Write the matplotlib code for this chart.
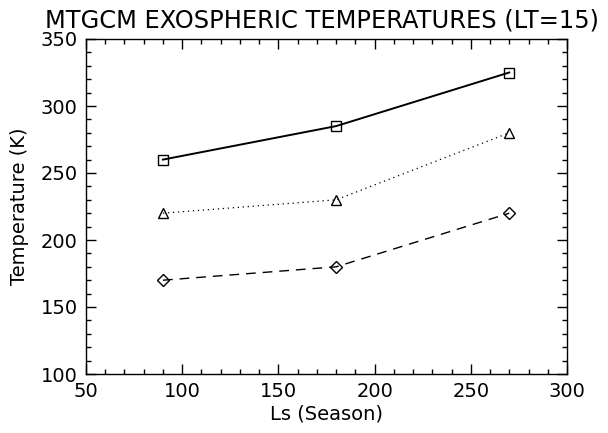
import matplotlib
matplotlib.use("Agg")
import matplotlib.pyplot as plt
from matplotlib.ticker import MultipleLocator

ls = [90, 180, 270]
temp_square = [260, 285, 325]
temp_triangle = [220, 230, 280]
temp_diamond = [170, 180, 220]

title = "MTGCM EXOSPHERIC TEMPERATURES (LT=15)"
xlabel = "Ls (Season)"
ylabel = "Temperature (K)"

plt.rcParams['font.family'] = ['DejaVu Sans']
fig = plt.figure(figsize=(6.08, 4.33), dpi=100)
ax = fig.add_axes([86/608, 1-374/433, (567-86)/608, (374-39)/433])

ax.plot(ls, temp_square, '-', color='black', lw=1.4, marker='s', ms=7,
        mfc='none', mec='black', mew=1.0)
ax.plot(ls, temp_triangle, linestyle=(0, (1, 3)), color='black', lw=0.9, marker='^', ms=7,
        mfc='none', mec='black', mew=1.0)
ax.plot(ls, temp_diamond, linestyle=(0, (7, 5)), color='black', lw=1.0, marker='D', ms=6,
        mfc='none', mec='black', mew=1.0)

ax.set_xlim(50, 300)
ax.set_ylim(100, 350)
ax.xaxis.set_major_locator(MultipleLocator(50))
ax.xaxis.set_minor_locator(MultipleLocator(10))
ax.yaxis.set_major_locator(MultipleLocator(50))
ax.yaxis.set_minor_locator(MultipleLocator(10))
ax.tick_params(which='both', direction='in', top=True, right=True, color='black')
ax.tick_params(which='major', length=7, width=1.0, labelsize=14, pad=6)
ax.tick_params(which='minor', length=3.5, width=1.0)
for s in ax.spines.values():
    s.set_linewidth(1.0)

ax.set_xlabel(xlabel, fontsize=14, labelpad=2)
ax.set_ylabel(ylabel, fontsize=14, labelpad=8)
fig.text(0.53, 0.952, title, fontsize=17.4, ha='center', va='center')

fig.savefig("out.png", dpi=100)
